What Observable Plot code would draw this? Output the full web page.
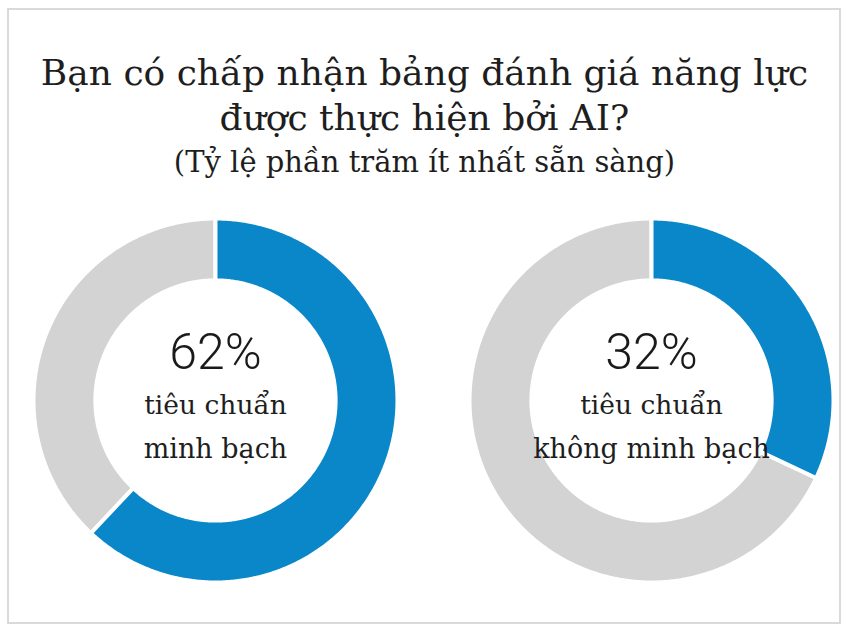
<!DOCTYPE html>
<html>
<head>
<meta charset="utf-8">
<script src="https://cdn.jsdelivr.net/npm/d3@7"></script>
<script src="https://cdn.jsdelivr.net/npm/@observablehq/plot@0.6"></script>
<style>
  html, body { margin: 0; padding: 0; background: #ffffff; }
  body { width: 849px; height: 632px; position: relative; overflow: hidden; }
  #frame { position: absolute; left: 7px; top: 8px; width: 834px; height: 616px; box-sizing: border-box; border: 2px solid #d9d9d9; }
  .t { position: absolute; left: 0; width: 849px; text-align: center; font-family: "DejaVu Serif", serif; color: #1e1e1e; white-space: nowrap; }
  #t1 { top: 53px; font-size: 36px; line-height: 40px; }
  #t2 { top: 98px; font-size: 36px; line-height: 40px; }
  #t3 { top: 144px; font-size: 29px; line-height: 36px; }
  #chart { position: absolute; left: 0; top: 190px; }
</style>
</head>
<body>
<div id="frame"></div>
<div class="t" id="t1">Bạn có chấp nhận bảng đánh giá năng lực</div>
<div class="t" id="t2">được thực hiện bởi AI?</div>
<div class="t" id="t3">(Tỷ lệ phần trăm ít nhất sẵn sàng)</div>
<div id="chart"></div>
<script>
// ---- data ----
const charts = ["minh bạch", "không minh bạch"];
const willing = [62, 32];
const labelLine1 = ["tiêu chuẩn", "tiêu chuẩn"];
const labelLine2 = ["minh bạch", "không minh bạch"];
const sliceNames = ["willing", "other"];

// ---- layout (in radius units) ----
const SPACING = 2.396;  // distance between donut centres
const INNER = 0.66;     // inner radius relative to outer
const BLUE = "#0a87c9", GRAY = "#d3d3d3";

const pie = d3.pie().sort(null);
const points = [];
charts.forEach((c, i) => {
  const cx = i * SPACING;
  const arcs = pie([willing[i], 100 - willing[i]]);
  arcs.forEach((a, j) => {
    const id = c + "-" + sliceNames[j];
    const n = Math.max(4, Math.ceil((a.endAngle - a.startAngle) / 0.01));
    const ring = [];
    for (let k = 0; k <= n; k++) {
      const t = a.startAngle + (a.endAngle - a.startAngle) * k / n;
      ring.push({x: cx + Math.sin(t), y: Math.cos(t)});
    }
    for (let k = n; k >= 0; k--) {
      const t = a.startAngle + (a.endAngle - a.startAngle) * k / n;
      ring.push({x: cx + INNER * Math.sin(t), y: INNER * Math.cos(t)});
    }
    ring.push(ring[0]);
    ring.forEach(p => points.push({...p, id, slice: sliceNames[j]}));
  });
});

const labels = charts.map((c, i) => ({
  cx: i * SPACING, pct: willing[i] + "%", l1: labelLine1[i], l2: labelLine2[i]
}));

const plot = Plot.plot({
  width: 849,
  height: 432,
  marginLeft: 33,
  marginRight: 16,
  marginTop: 28,
  marginBottom: 40,
  x: {domain: [-1, 1 + SPACING], axis: null},
  y: {domain: [-1, 1], axis: null},
  marks: [
    Plot.line(points.filter(d => d.slice === "other"), {x: "x", y: "y", z: "id", fill: GRAY, stroke: "white", strokeWidth: 4, curve: "linear"}),
    Plot.line(points.filter(d => d.slice === "willing"), {x: "x", y: "y", z: "id", fill: BLUE, stroke: "white", strokeWidth: 4, curve: "linear"}),
    Plot.text(labels, {x: "cx", y: () => 0.26, text: "pct", fontSize: 50, fontWeight: 300, fontFamily: "Roboto", fill: "#1a1a1a"}),
    Plot.text(labels, {x: "cx", y: () => -0.03, text: "l1", fontSize: 26.5, fontFamily: "DejaVu Serif", fill: "#1e1e1e"}),
    Plot.text(labels, {x: "cx", y: () => -0.27, text: "l2", fontSize: 27, fontFamily: "DejaVu Serif", fill: "#1e1e1e"})
  ]
});
document.getElementById("chart").appendChild(plot);
</script>
</body>
</html>
